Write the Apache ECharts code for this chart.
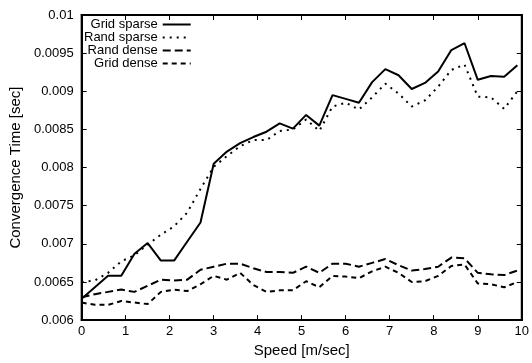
<!DOCTYPE html>
<html>
<head>
<meta charset="utf-8">
<script src="https://cdn.jsdelivr.net/npm/echarts@6/dist/echarts.min.js"></script>
<style>
  html, body { margin: 0; padding: 0; background: #fff; }
  #chart { width: 532px; height: 363px; }
</style>
</head>
<body>
<div id="chart"></div>
<script>
// speed values in m/sec
const speeds = [0, 0.3, 0.6, 0.9, 1.2, 1.5, 1.8, 2.1, 2.4, 2.7, 3.0, 3.3, 3.6, 3.9, 4.2, 4.5, 4.8,
  5.1, 5.4, 5.7, 6.0, 6.3, 6.6, 6.9, 7.2, 7.5, 7.8, 8.1, 8.4, 8.7, 9.0, 9.3, 9.6, 9.9];

const gridSparse = [0.00628, 0.00643, 0.00658, 0.00658, 0.00687, 0.00701, 0.00678, 0.00678, 0.00703, 0.00728,
  0.00805, 0.00821, 0.00832, 0.0084, 0.00847, 0.00858, 0.00851, 0.00869, 0.00855, 0.00895,
  0.0089, 0.00885, 0.00912, 0.00929, 0.00921, 0.00903, 0.00911, 0.00926, 0.00954, 0.00963,
  0.00915, 0.0092, 0.00919, 0.00934];

const randSparse = [0.0065, 0.00652, 0.00662, 0.00677, 0.00685, 0.00699, 0.00712, 0.00723, 0.00741, 0.00772,
  0.00801, 0.00815, 0.00828, 0.00836, 0.00836, 0.00848, 0.0085, 0.00863, 0.00848, 0.0088,
  0.00885, 0.00876, 0.00892, 0.0091, 0.00897, 0.0088, 0.00888, 0.00906, 0.00928, 0.00935,
  0.00893, 0.00892, 0.00877, 0.009];

const randDense = [0.0063, 0.00634, 0.00637, 0.0064, 0.00637, 0.00645, 0.00653, 0.00652, 0.00653, 0.00666,
  0.0067, 0.00674, 0.00674, 0.00668, 0.00663, 0.00663, 0.00662, 0.0067, 0.00662, 0.00674,
  0.00674, 0.0067, 0.00675, 0.0068, 0.00672, 0.00665, 0.00667, 0.0067, 0.00682, 0.00681,
  0.00662, 0.0066, 0.00659, 0.00665];

const gridDense = [0.00623, 0.0062, 0.0062, 0.00625, 0.00623, 0.00621, 0.00637, 0.0064, 0.00638, 0.00647,
  0.00658, 0.00653, 0.00662, 0.00646, 0.00637, 0.00639, 0.00639, 0.00651, 0.00643, 0.00658,
  0.00657, 0.00655, 0.00664, 0.0067, 0.00662, 0.0065, 0.00651, 0.00658, 0.00671, 0.00673,
  0.00648, 0.00647, 0.00643, 0.0065];

const font = "'Liberation Sans', Arial, sans-serif";

function pairs(values) {
  return speeds.map((s, i) => [s, values[i]]);
}

function lineSeries(name, values, dash) {
  return {
    name: name,
    type: "line",
    data: pairs(values),
    symbol: "none",
    showSymbol: false,
    xAxisIndex: 0,
    yAxisIndex: 0,
    lineStyle: { color: "#000", width: 2, type: dash },
    itemStyle: { color: "#000" },
  };
}

const chart = echarts.init(document.getElementById("chart"), null, { renderer: "canvas" });

const xCommon = {
  type: "value",
  min: 0,
  max: 10,
  interval: 1,
  splitLine: { show: false },
  axisLine: { show: true, onZero: false, lineStyle: { color: "#000", width: 2 } },
  axisTick: { show: true, inside: true, length: 5, lineStyle: { color: "#000", width: 1 } },
};

const yCommon = {
  type: "value",
  min: 0.006,
  max: 0.01,
  interval: 0.0005,
  splitLine: { show: false },
  axisLine: { show: true, onZero: false, lineStyle: { color: "#000", width: 2 } },
  axisTick: { show: true, inside: true, length: 5, lineStyle: { color: "#000", width: 1 } },
};

chart.setOption({
  backgroundColor: "#fff",
  animation: false,
  grid: { left: 75, right: 9, top: 15, bottom: 36, show: true, borderColor: "#000", borderWidth: 2 },
  legend: {
    orient: "vertical",
    left: 79,
    top: 13,
    align: "right",
    itemWidth: 28,
    itemHeight: 8,
    itemGap: 0,
    itemStyle: { opacity: 0 },
    textStyle: { fontFamily: font, fontSize: 13, lineHeight: 12.5, color: "#000", padding: [0, 0, 0, 0] },
    data: ["Grid sparse", "Rand sparse", "Rand dense", "Grid dense"],
  },
  xAxis: [
    Object.assign({}, xCommon, {
      position: "bottom",
      name: "Speed [m/sec]",
      nameLocation: "middle",
      nameGap: 21,
      nameTextStyle: { fontFamily: font, fontSize: 15, color: "#000" },
      axisLabel: { fontFamily: font, fontSize: 13, color: "#000", margin: 5 },
    }),
    Object.assign({}, xCommon, { position: "top", axisLabel: { show: false } }),
  ],
  yAxis: [
    Object.assign({}, yCommon, {
      position: "left",
      name: "Convergence Time [sec]",
      nameLocation: "middle",
      nameGap: 58,
      nameTextStyle: { fontFamily: font, fontSize: 15, color: "#000" },
      axisLabel: {
        fontFamily: font, fontSize: 13, color: "#000", margin: 8,
        formatter: (v) => String(parseFloat(v.toFixed(4))),
      },
    }),
    Object.assign({}, yCommon, { position: "right", axisLabel: { show: false } }),
  ],
  series: [
    lineSeries("Grid sparse", gridSparse, "solid"),
    lineSeries("Rand sparse", randSparse, [2, 5]),
    lineSeries("Rand dense", randDense, [8, 4]),
    lineSeries("Grid dense", gridDense, [5, 4]),
    // empty series so the mirrored top/right axes get drawn
    { type: "line", data: [], xAxisIndex: 1, yAxisIndex: 1, symbol: "none" },
  ],
});
</script>
</body>
</html>
